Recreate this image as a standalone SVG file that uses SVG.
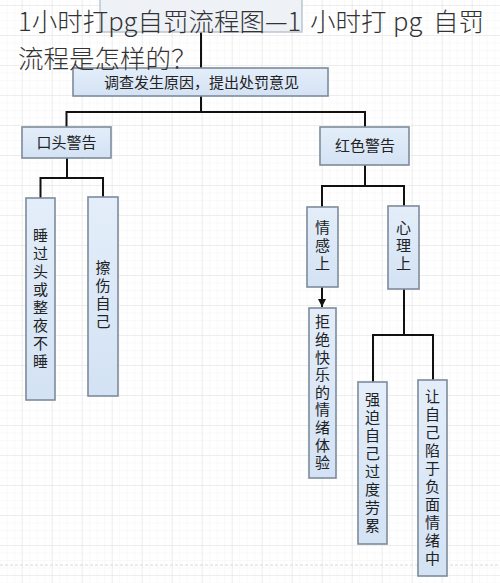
<svg xmlns="http://www.w3.org/2000/svg" width="500" height="583" viewBox="0 0 500 583">
<defs>
<pattern id="minor" x="21.7" y="5" width="7.5" height="7.5" patternUnits="userSpaceOnUse">
<path d="M0 0H7.5M0 0V7.5" fill="none" stroke="#f4f4f4" stroke-width="1"/>
</pattern>
<pattern id="major" x="21.7" y="5" width="30" height="30" patternUnits="userSpaceOnUse">
<path d="M0 0H30M0 0V30" fill="none" stroke="#e2e2e2" stroke-width="1"/>
</pattern>
<linearGradient id="boxfill" x1="0" y1="0" x2="0" y2="1">
<stop offset="0" stop-color="#e4eefa"/>
<stop offset="1" stop-color="#d3e2f4"/>
</linearGradient>
<marker id="arrow" viewBox="0 0 10 10" refX="10" refY="5" markerWidth="8" markerHeight="8" markerUnits="userSpaceOnUse" orient="auto">
<path d="M0 0L10 5L0 10Z" fill="#111"/>
</marker>
<style>
.box{fill:url(#boxfill);stroke:#7d8b9b;stroke-width:1.6}
.t{font-family:"Noto Sans CJK SC","Noto Sans",sans-serif;fill:#222;text-anchor:middle;font-size:15px}
.v{writing-mode:vertical-rl;text-orientation:upright;letter-spacing:3px}
.ln{fill:none;stroke:#111;stroke-width:2}
.title{font-family:"Noto Sans CJK SC","Noto Sans",sans-serif;font-size:25.5px;fill:#333;font-weight:300}
</style>
</defs>
<rect width="500" height="583" fill="#ffffff"/>
<rect width="500" height="583" fill="url(#minor)"/>
<rect width="500" height="583" fill="url(#major)"/>
<line x1="0" y1="565" x2="500" y2="565" stroke="#d8d8d8" stroke-width="1" stroke-dasharray="3 2"/>

<g id="connectors">
<path class="ln" d="M201 32V68"/>
<path class="ln" d="M201 96V112M66.5 127V112H365V127"/>
<path class="ln" d="M67 158V178M40.5 198V178H103V197"/>
<path class="ln" d="M365 165V186M322 207V186H404V206"/>
<path class="ln" d="M322 287V307" marker-end="url(#arrow)"/>
<path class="ln" d="M404 289V335M373 382V335H433V380"/>
</g>

<g id="top">
<rect x="100" y="-1" width="202" height="33" fill="#eef2f7" stroke="#b8c2cc" stroke-width="1.4"/>
</g>
<g id="investigate">
<rect class="box" x="73" y="68" width="255" height="28"/>
<text class="t" x="201.5" y="88">调查发生原因，提出处罚意见</text>
</g>
<g id="verbal">
<rect class="box" x="22" y="127" width="89" height="31"/>
<text class="t" x="66.5" y="148">口头警告</text>
</g>
<g id="red">
<rect class="box" x="320" y="127" width="89" height="38"/>
<text class="t" x="365" y="151">红色警告</text>
</g>
<g id="sleep">
<rect class="box" x="26" y="198" width="29" height="202"/>
<text class="t v" x="40.5" y="300">睡过头或整夜不睡</text>
</g>
<g id="hurt">
<rect class="box" x="88" y="197" width="30" height="199"/>
<text class="t v" x="103" y="296">擦伤自己</text>
</g>
<g id="emotion">
<rect class="box" x="307" y="207" width="31" height="80"/>
<text class="t v" x="322.5" y="247">情感上</text>
</g>
<g id="mind">
<rect class="box" x="388" y="206" width="31" height="83"/>
<text class="t v" x="403.5" y="247">心理上</text>
</g>
<g id="refuse">
<rect class="box" x="309" y="308" width="27" height="170"/>
<text class="t v" x="322.5" y="393.5" style="letter-spacing:2.6px">拒绝快乐的情绪体验</text>
</g>
<g id="overwork">
<rect class="box" x="358" y="382" width="29" height="162"/>
<text class="t v" x="372.5" y="464">强迫自己过度劳累</text>
</g>
<g id="negative">
<rect class="box" x="418" y="380" width="29" height="196"/>
<text class="t v" x="432.5" y="478.5">让自己陷于负面情绪中</text>
</g>

<g id="title">
<text class="title" x="18" y="31">1小时打pg自罚流程图—1<tspan x="310">小时打</tspan><tspan x="393">pg</tspan><tspan x="433">自罚</tspan></text>
<text class="title" x="18" y="68">流程是怎样的？</text>
</g>
</svg>
